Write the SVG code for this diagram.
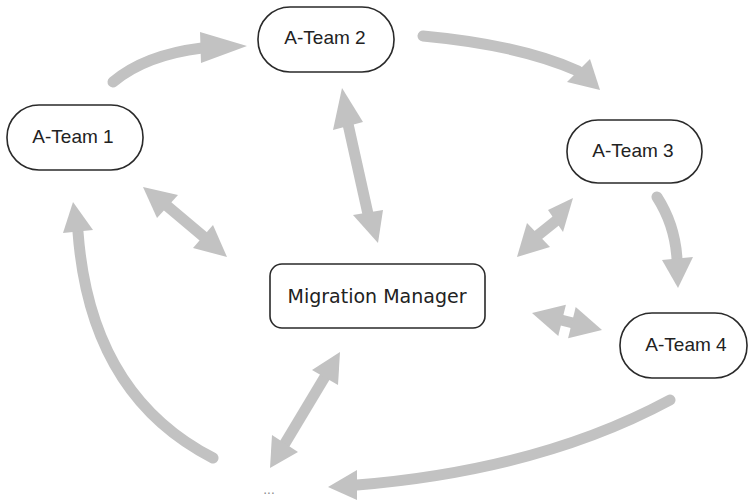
<svg xmlns="http://www.w3.org/2000/svg" width="751" height="501" viewBox="0 0 751 501">
<style>
.node rect{fill:#fff;stroke:#2a2a2a;stroke-width:1.6}
.team{font-family:"Liberation Sans",Arial,sans-serif;font-size:19px;fill:#222;text-anchor:middle}
.mm{font-family:"DejaVu Sans",Verdana,sans-serif;font-size:19px;fill:#222;text-anchor:middle}
.dots{font-family:"DejaVu Sans",Verdana,sans-serif;font-size:12px;fill:#888;text-anchor:middle}
.shaft{fill:none;stroke:#c2c2c2;stroke-width:11;stroke-linecap:round}
.head{fill:#c2c2c2}
</style>
<rect width="751" height="501" fill="#fff"/>
<g id="connectors">
  <path class="shaft" d="M113,82 Q145,55 202,48"/>
  <polygon class="head" points="200,32 247,46 201,63"/>
  <path class="shaft" d="M423,36 Q520,45 578,71"/>
  <polygon class="head" points="590,59 600,90 567,82"/>
  <path class="shaft" style="stroke-linecap:butt" d="M348,124 L368,214"/>
  <polygon class="head" points="342,88 363,122 333,130"/>
  <polygon class="head" points="378,243 353,215 383,210"/>
  <path class="shaft" style="stroke-linecap:butt" d="M166,205 L204,237"/>
  <polygon class="head" points="143,187 178,195 157,218"/>
  <polygon class="head" points="227,257 193,248 213,225"/>
  <path class="shaft" style="stroke-linecap:butt" d="M537,236 L557,220"/>
  <polygon class="head" points="573,198 548,210 563,232"/>
  <polygon class="head" points="517,257 527,223 550,247"/>
  <path class="shaft" d="M657,197 Q675,225 677,259"/>
  <polygon class="head" points="662,260 678,288 693,257"/>
  <path class="shaft" style="stroke-linecap:butt" d="M561,320 L573,323"/>
  <polygon class="head" points="532,313 565.9,304.7 558.3,335.9"/>
  <polygon class="head" points="602,330 568.1,338.3 575.7,307.1"/>
  <path class="shaft" style="stroke-linecap:butt" d="M326,375 L284,445"/>
  <polygon class="head" points="340,352 312,370 338,385"/>
  <polygon class="head" points="270,468 272,435 298,452"/>
  <path class="shaft" d="M670,400 Q540,470 357,485"/>
  <polygon class="head" points="357,470 328,487 357,500"/>
  <path class="shaft" d="M213,458 Q90,395 78,232"/>
  <polygon class="head" points="73,202 93,230 63,233"/>
</g>
<g id="ateam1" class="node">
  <rect x="7" y="105" width="136" height="65" rx="32" ry="32"/>
  <text class="team" x="73" y="143">A-Team 1</text>
</g>
<g id="ateam2" class="node">
  <rect x="258" y="7" width="136" height="65" rx="32" ry="32"/>
  <text class="team" x="325" y="44">A-Team 2</text>
</g>
<g id="ateam3" class="node">
  <rect x="567" y="120" width="135" height="63" rx="31" ry="31"/>
  <text class="team" x="633" y="157">A-Team 3</text>
</g>
<g id="ateam4" class="node">
  <rect x="620" y="313" width="127" height="65" rx="32" ry="32"/>
  <text class="team" x="686" y="351">A-Team 4</text>
</g>
<g id="migration-manager" class="node">
  <rect x="270" y="264" width="215" height="64" rx="12" ry="12"/>
  <text class="mm" x="377" y="303">Migration Manager</text>
</g>
<g id="more">
  <text class="dots" x="269" y="494">...</text>
</g>
</svg>
